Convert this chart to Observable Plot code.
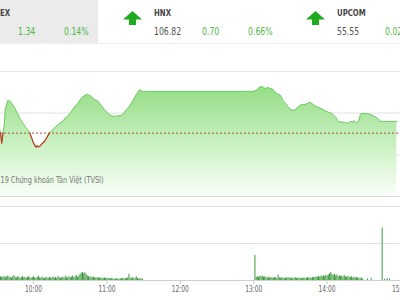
<!DOCTYPE html>
<html>
<head>
<meta charset="utf-8">
<script src="https://cdn.jsdelivr.net/npm/d3@7"></script>
<script src="https://cdn.jsdelivr.net/npm/@observablehq/plot@0.6"></script>
<style>
  html, body { margin:0; padding:0; background:#fff; }
  body { width:400px; height:300px; overflow:hidden; position:relative;
         font-family: "Liberation Sans Narrow","DejaVu Sans Condensed",Roboto,sans-serif; }
  .abs { position:absolute; white-space:nowrap; line-height:1; }
  .txt { transform: scaleX(0.86); transform-origin: left center; }
  .name { font-size:9px; color:#444; font-weight:bold; }
  .lvl { font-size:10px; color:#555; }
  .up { font-size:10px; color:#4cb848; }
  #price, #vol { position:absolute; left:0; }
  #price { top:44px; } #vol { top:200px; }
  #vol [aria-label^="x-axis"] line, #vol [aria-label^="x-axis"] path { stroke:#c8c8c8; }
</style>
</head>
<body>
<div id="hdr" class="abs" style="left:0;top:0;width:400px;height:43px;border-bottom:1px solid #efefef;">
  <div class="abs" style="left:0;top:0;width:98px;height:43px;background:#ebebeb;"></div>
</div>
<div id="price"></div>
<div id="vol"></div>
<script>
// ---- header tickers ----
const tickerNames   = ["EX", "HNX", "UPCOM"];
const tickerLevels  = [null, 106.82, 55.55];
const tickerChanges = [1.34, 0.70, 0.02];
const tickerPcts    = [0.14, 0.66, null];
const tickerNameX   = [-30, 154, 337];
const tickerArrow   = [false, true, true];

// ---- price line (VN-Index intraday) ----
const priceTimes = ["09:31","09:33","09:34","09:35","09:36","09:37","09:39","09:41","09:42","09:44","09:47","09:50","09:53","09:56",
  "09:57","09:58","10:00","10:02","10:03","10:04","10:05","10:07","10:09","10:11","10:13","10:15","10:17","10:20","10:22","10:24",
  "10:26","10:28","10:31","10:34","10:36","10:38","10:40","10:42","10:44","10:46","10:47","10:50","10:53","10:56","10:58","11:00",
  "11:03","11:06","11:09","11:12","11:14","11:16","11:18","11:21","11:24","11:27","11:28","11:29",
  "13:00","13:03","13:05","13:07","13:08","13:10","13:12","13:13","13:15","13:17","13:19","13:22","13:24","13:27","13:29","13:32",
  "13:34","13:37","13:39","13:42","13:44","13:46","13:49","13:51","13:55","13:58","14:01","14:04","14:07","14:09","14:12","14:14",
  "14:17","14:19","14:21","14:22","14:24","14:26","14:27","14:28","14:32","14:35","14:40","14:44","14:57"];
const priceValues = [959.1,957.6,956.4,957.6,958.4,960.5,961.5,961.4,961.2,960.8,959.9,959.1,958.4,957.9,
  957.6,957.2,956.4,955.9,956.1,955.95,956.0,956.35,956.6,957.1,957.6,957.9,958.15,958.6,958.8,959.0,
  959.4,959.6,960.2,960.8,961.1,961.5,961.9,962.1,962.25,962.1,962.0,961.6,961.4,960.8,960.4,960.1,
  959.7,959.6,959.65,959.7,960.0,960.4,960.7,961.4,962.2,962.8,962.7,962.6,
  962.6,962.8,963.1,963.2,963.0,962.95,963.1,962.9,962.95,962.6,962.35,962.1,961.5,961.0,960.55,960.3,
  960.4,960.8,961.0,961.0,961.15,961.3,961.0,960.8,960.55,960.3,960.1,959.95,959.5,959.0,958.9,958.9,
  958.75,959.0,958.9,959.1,958.75,959.1,959.7,959.95,959.95,959.85,959.5,959.0,959.0];
const refLevel = 957.6;
const priceGrid = [955, 960, 965];
const caption = "19 Chứng khoán Tân Việt (TVSI)";

// ---- volume (millions of shares per minute) ----
const volMorningStart = "09:33";
const volMorning = [0.45,0.5,0.4,0.55,0.35,0.5,0.6,0.4,0.45,0.3,0.5,0.65,0.4,0.35,0.5,0.45,0.3,0.4,0.55,0.35,0.4,0.3,0.45,0.5,0.35,0.3,0.4,
  0.5,0.35,0.3,0.4,0.6,0.35,0.3,0.45,0.3,0.25,0.4,0.35,0.3,0.45,0.3,0.35,0.5,0.3,0.4,0.3,0.55,0.35,0.3,0.4,0.45,0.3,0.6,0.35,0.4,0.5,
  0.35,0.45,0.6,0.4,0.5,0.7,0.45,0.55,0.8,1.0,1.1,0.9,1.05,0.8,0.6,0.55,0.4,0.5,0.35,0.45,0.4,0.3,0.35,0.4,0.3,0.35,0.25,0.3,0.35,0.3,
  0.25,0.3,0.2,0.25,0.3,0.2,0.15,0.2,0.25,0.2,0.15,0.2,0.25,0.3,0.2,0.25,0.3,0.35,0.85,0.3,0.25,0.4,0.2,0.3,0.5,0.25,0.2,0.3,0.15,0.2];
const volAfternoonStart = "13:01";
const volAfternoon = [3.4,
  0.4,0.5,0.45,0.55,0.5,0.6,0.45,0.5,0.4,0.35,0.45,0.3,0.4,0.35,0.3,0.4,0.35,0.3,0.75,0.35,0.3,0.4,0.3,0.25,0.35,0.3,0.4,0.3,
  0.3,0.35,0.25,0.3,0.4,0.3,0.25,0.35,0.3,0.25,0.3,0.35,0.25,0.3,0.4,0.3,0.35,0.3,0.45,0.35,0.4,0.5,0.4,0.55,0.45,0.6,0.5,0.65,0.55,0.7,
  0.6,0.75,0.9,1.1,0.8,0.7,0.85,0.6,0.75,0.5,0.65,0.55,0.6,0.45,0.7,0.5,0.4,0.55,0.45,0.4,0.5,0.35,0.45,0.3,0.4,0.35,0.3,0.25,0.35,0.2];
const volLateTimes = ["14:33","14:36","14:45","14:47","14:49","14:51"];
const volLate = [0.2,0.3,7.1,0.15,0.25,0.2];
const volGrid = [5, 10];
const timeTicks = ["10:00","11:00","12:00","13:00","14:00","15:00"];

// ---- helpers ----
const parseT = s => { const [h, m] = s.split(":").map(Number); return new Date(2019, 0, 2, h, m); };
const addMin = (d, k) => new Date(d.getTime() + k * 60000);
const xDomain = [parseT("09:33"), parseT("15:00")];
const FONT = "Liberation Sans Narrow, DejaVu Sans Condensed, Roboto, sans-serif";

// header
const hdr = document.getElementById("hdr");
function span(cls, txt, x, y) {
  const s = document.createElement("div");
  s.className = "abs txt " + cls; s.textContent = txt;
  s.style.left = x + "px"; s.style.top = y + "px";
  hdr.appendChild(s);
}
tickerNames.forEach((n, i) => {
  const x0 = tickerNameX[i];
  if (tickerArrow[i]) {
    const ns = "http://www.w3.org/2000/svg";
    const a = document.createElementNS(ns, "svg");
    a.setAttribute("width", 19); a.setAttribute("height", 14);
    a.style.position = "absolute"; a.style.left = (x0 - 31) + "px"; a.style.top = "11px";
    const p = document.createElementNS(ns, "path");
    p.setAttribute("d", "M9.5 0 L19 8.5 L13 8.5 L13 14 L6 14 L6 8.5 L0 8.5 Z");
    p.setAttribute("fill", "#1faa1f");
    a.appendChild(p); hdr.appendChild(a);
  }
  span("name", n, i === 0 ? 0 : x0, 9);
  if (tickerLevels[i] != null) span("lvl", tickerLevels[i].toFixed(2), x0, 27);
  span("up", tickerChanges[i].toFixed(2), x0 + 48, 27);
  if (tickerPcts[i] != null) span("up", tickerPcts[i].toFixed(2) + "%", x0 + 94, 27);
});

// price chart
const price = priceTimes.map((t, i) => ({t: parseT(t), v: priceValues[i]}));
const priceSvg = Plot.plot({
  width: 400, height: 156, marginTop: 6, marginBottom: 4, marginLeft: 0, marginRight: 0,
  style: {background: "transparent", overflow: "visible"},
  x: {type: "time", domain: xDomain, axis: null},
  y: {domain: [950, 967.5], axis: null},
  marks: [
    Plot.ruleY(priceGrid, {stroke: "#e2e2e2"}),
    Plot.areaY(price, {x: "t", y1: d => 950, y2: "v", fill: "url(#pg)", clip: true}),
    Plot.ruleY([950], {stroke: "#dcdcdc"}),
    Plot.lineY(price, {x: "t", y: "v", stroke: "#72cd63", strokeWidth: 1, clip: true}),
    Plot.lineY(price, {x: "t", y: d => d.v <= refLevel ? d.v : NaN, stroke: "#c0392b", strokeWidth: 1.2, clip: true}),
    Plot.ruleY([refLevel], {stroke: "#a9503c", strokeDasharray: "2,2"}),
    Plot.text([caption], {frameAnchor: "bottom-left", text: d => d, textAnchor: "start", dy: -14,
      fontSize: 8, fill: "#777", fontFamily: FONT})
  ]
});
{
  const ns = "http://www.w3.org/2000/svg";
  const defs = document.createElementNS(ns, "defs");
  const g = document.createElementNS(ns, "linearGradient");
  g.setAttribute("id", "pg"); g.setAttribute("gradientUnits", "userSpaceOnUse");
  g.setAttribute("x1", 0); g.setAttribute("x2", 0); g.setAttribute("y1", 40); g.setAttribute("y2", 152);
  [["0", "#92dd83"], ["0.5", "#c6efbd"], ["1", "#fafff9"]].forEach(([o, c]) => {
    const s = document.createElementNS(ns, "stop");
    s.setAttribute("offset", o); s.setAttribute("stop-color", c); g.appendChild(s);
  });
  defs.appendChild(g); priceSvg.insertBefore(defs, priceSvg.firstChild);
  priceSvg.querySelectorAll("text").forEach(t => {
    if (t.textContent === caption) { t.setAttribute("textLength", 103); t.setAttribute("lengthAdjust", "spacingAndGlyphs"); }
  });
}
document.getElementById("price").appendChild(priceSvg);

// volume chart
const vol = [];
volMorning.forEach((v, i) => vol.push({t: addMin(parseT(volMorningStart), i), v}));
volAfternoon.forEach((v, i) => vol.push({t: addMin(parseT(volAfternoonStart), i), v}));
volLateTimes.forEach((t, i) => vol.push({t: parseT(t), v: volLate[i]}));

const volSvg = Plot.plot({
  width: 400, height: 100, marginTop: 6, marginBottom: 20, marginLeft: 0, marginRight: 0,
  style: {background: "transparent", color: "#666", fontSize: "8.5px", fontFamily: FONT, overflow: "visible"},
  x: {type: "time", domain: xDomain, ticks: timeTicks.map(parseT), tickFormat: d3.timeFormat("%H:%M"),
      tickSize: 4, tickPadding: 1, label: null},
  y: {domain: [0, 10], axis: null},
  marks: [
    Plot.ruleY(volGrid, {stroke: "#e2e2e2"}),
    Plot.ruleX(vol, {x: "t", y1: d => 0, y2: "v", stroke: "#3b9a3b", strokeWidth: 1}),
    Plot.ruleY([0], {stroke: "#d0d0d0"})
  ]
});
volSvg.querySelectorAll("text").forEach(t => {
  if (/^\d\d:\d\d$/.test(t.textContent)) { t.setAttribute("textLength", 17); t.setAttribute("lengthAdjust", "spacingAndGlyphs"); }
});
document.getElementById("vol").appendChild(volSvg);
</script>
</body>
</html>
